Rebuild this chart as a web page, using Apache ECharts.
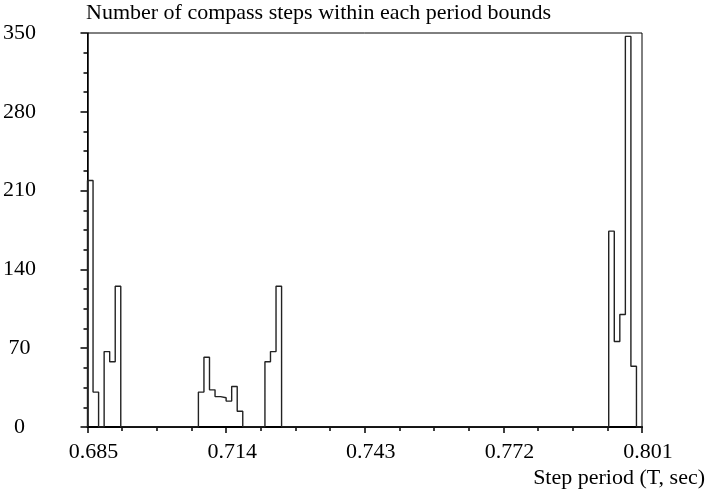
<!DOCTYPE html>
<html>
<head>
<meta charset="utf-8">
<script src="https://cdn.jsdelivr.net/npm/echarts@6/dist/echarts.min.js"></script>
<style>
    html, body { margin: 0; padding: 0; background: #fff; }
    #chart { width: 708px; height: 493px; }
</style>
</head>
<body>
<div id="chart"></div>
<script>
// histogram: 100 bins between 0.685 and 0.801 sec
const periodStart = 0.685;
const binWidth = 0.00116;
const binsPerTick = 25;

const xTickLabels = ["0.685", "0.714", "0.743", "0.772", "0.801"];
const yTickLabels = [0, 70, 140, 210, 280, 350];

// counts per bin (bins not listed are 0)
const clusterA = { first: 0, counts: [219, 31, 0, 67, 58, 125] };
const clusterB = { first: 20, counts: [31, 62, 33, 27, 26, 23, 36, 14] };
const clusterC = { first: 32, counts: [58, 67, 125] };
const clusterD = { first: 94, counts: [174, 76, 100, 347, 54] };

const binCount = 100;
const counts = new Array(binCount).fill(0);
[clusterA, clusterB, clusterC, clusterD].forEach((c) => {
    c.counts.forEach((v, i) => { counts[c.first + i] = v; });
});

// step outline: start at baseline, one point per bin left edge, close at right end
const outline = [[0, 0]];
counts.forEach((v, i) => outline.push([i, v]));
outline.push([binCount, 0]);

const serif = "Liberation Serif";

const chart = echarts.init(document.getElementById("chart"), null, { renderer: "canvas" });
chart.setOption({
    animation: false,
    title: {
        text: "Number of compass steps within each period bounds",
        left: 86,
        top: 2,
        padding: 0,
        textStyle: { fontFamily: serif, fontSize: 22, fontWeight: "normal", color: "#000" },
    },
    grid: {
        left: 87,
        right: 64,
        top: 33,
        bottom: 66,
        show: true,
        borderColor: "#000",
        borderWidth: 1,
    },
    xAxis: {
        type: "value",
        min: 0,
        max: binCount,
        interval: binsPerTick,
        name: "Step period (T, sec)",
        nameLocation: "end",
        nameGap: 63,
        nameTextStyle: {
            fontFamily: serif, fontSize: 22, color: "#000",
            align: "right", verticalAlign: "top", padding: [40, 0, 0, 0],
        },
        axisLine: { onZero: false, lineStyle: { color: "#000", width: 2 } },
        axisTick: { length: 6, lineStyle: { color: "#000", width: 1.5 } },
        minorTick: { show: true, splitNumber: 4, length: 4, lineStyle: { color: "#000", width: 1.5 } },
        splitLine: { show: false },
        axisLabel: {
            fontFamily: serif, fontSize: 22, color: "#000", margin: 14,
            padding: [0, 0, 0, 12],
            formatter: (v) => xTickLabels[Math.round(v / binsPerTick)],
        },
    },
    yAxis: {
        type: "value",
        min: 0,
        max: 350,
        interval: 70,
        axisLine: { show: true, lineStyle: { color: "#000", width: 1.5 } },
        axisTick: { length: 7, lineStyle: { color: "#000", width: 1.5 } },
        minorTick: { show: true, splitNumber: 4, length: 4, lineStyle: { color: "#000", width: 1.5 } },
        splitLine: { show: false },
        axisLabel: {
            fontFamily: serif, fontSize: 22, color: "#000", margin: 68, align: "center",
            formatter: (v) => (yTickLabels.includes(v) ? String(v) : ""),
        },
    },
    series: [
        {
            type: "line",
            step: "end",
            data: outline,
            symbol: "none",
            lineStyle: { color: "#222", width: 1.4 },
        },
    ],
});
</script>
</body>
</html>
